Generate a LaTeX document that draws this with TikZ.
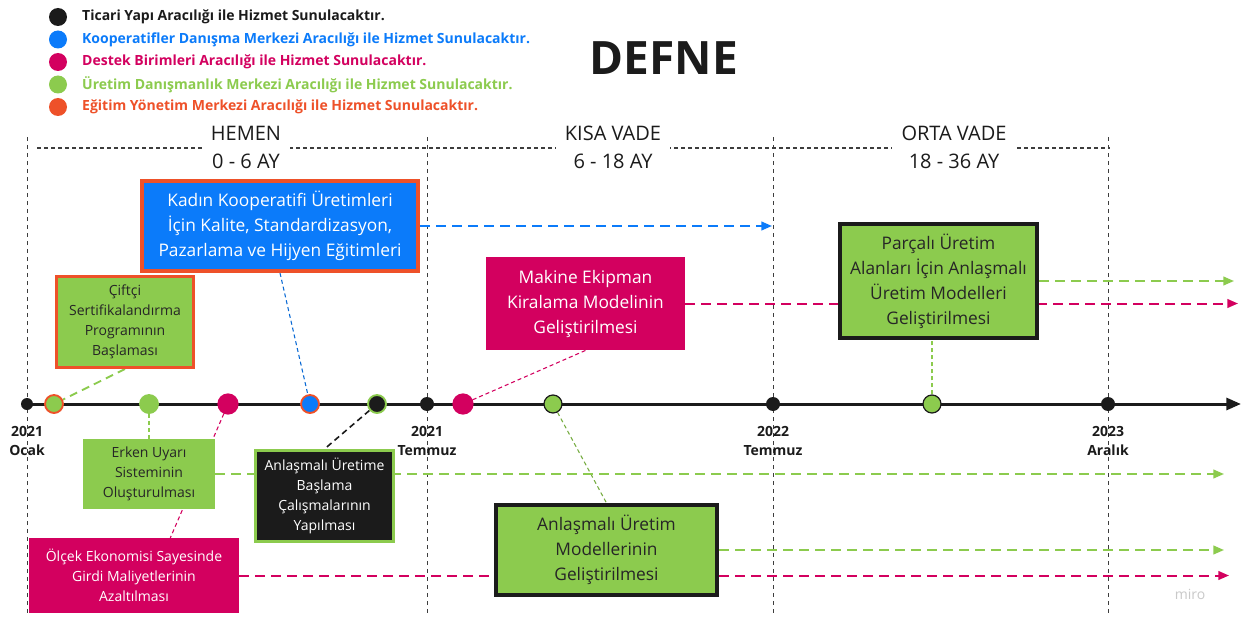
\documentclass[tikz,border=0pt]{standalone}
\usepackage{fontspec}
\setmainfont{Open Sans}
\usetikzlibrary{arrows.meta, positioning, backgrounds}

\definecolor{tblack}{HTML}{1B1B1B}
\definecolor{tdark}{HTML}{262626}
\definecolor{tblue}{HTML}{0B7BFA}
\definecolor{tmagenta}{HTML}{D3005F}
\definecolor{tgreen}{HTML}{8CCB4E}
\definecolor{torange}{HTML}{EE5129}
\definecolor{tgray}{HTML}{C9C9C9}

\begin{document}
\begin{tikzpicture}[
    x=0.75pt, y=-0.75pt,
    legenddot/.style={circle, inner sep=0pt, minimum size=13.5pt},
    legendtext/.style={inner sep=0pt, font=\bfseries\fontsize{10.5}{12}\selectfont},
    period/.style={fill=white, align=center, inner xsep=7pt, inner ysep=1pt, text=tblack, font=\fontsize{15}{21}\selectfont},
    yearlabel/.style={align=center, text=tblack, font=\bfseries\fontsize{10.5}{14.25}\selectfont},
    guide/.style={tblack!85, line width=0.7pt, dash pattern=on 3pt off 3pt},
    headline/.style={tblack!85, line width=0.8pt, dash pattern=on 3pt off 2.25pt},
    milestone/.style={circle, inner sep=0pt, minimum size=13.5pt, line width=1.4pt},
    yearmark/.style={circle, fill=tblack, inner sep=0pt, minimum size=10.5pt},
    taskbox/.style={rectangle, align=center, inner sep=2pt, font=\fontsize{10.5}{15}\selectfont},
    bigtask/.style={taskbox, font=\fontsize{13}{18.75}\selectfont},
    leader/.style={line width=0.8pt, dash pattern=on 3pt off 2.25pt},
    trackline/.style={line width=1.5pt, dash pattern=on 7.5pt off 4.5pt, -{Triangle[length=8pt,width=6.5pt]}}
]

% Canvas
\useasboundingbox (0,0) rectangle (1250,617);

% Legend
\foreach \col/\txt [count=\i] in {tblack/Ticari Yapı Aracılığı ile Hizmet Sunulacaktır.,
    tblue/Kooperatifler Danışma Merkezi Aracılığı ile Hizmet Sunulacaktır.,
    tmagenta/Destek Birimleri Aracılığı ile Hizmet Sunulacaktır.,
    tgreen/Üretim Danışmanlık Merkezi Aracılığı ile Hizmet Sunulacaktır.,
    torange/Eğitim Yönetim Merkezi Aracılığı ile Hizmet Sunulacaktır.} {
  \node[legenddot, fill=\col] (leg\i) at (58, 22.5*\i-5.5) {};
  \node[legendtext, text=\col, right=11pt of leg\i] (legtext\i) {\txt};
}

% Title
\node[text=tblack, font=\bfseries\fontsize{34.5}{40}\selectfont] (title) at (664,58) {DEFNE};

% Periods
\node[period] (hemen) at (246,147) {HEMEN\\0 - 6 AY};
\node[period] (kisa) at (613,147) {KISA VADE\\6 - 18 AY};
\node[period] (orta) at (954,147) {ORTA VADE\\18 - 36 AY};

% Timeline
\coordinate (axisstart) at (27,404);
\coordinate (axisend) at (1241,404);
\draw[tblack, line width=2.25pt, -{Triangle[length=11pt,width=9pt]}] (axisstart) -- (axisend);

\node[yearmark, minimum size=9pt] (d1) at (27,404) {};
\node[milestone, fill=tgreen, draw=torange] (d2) at (54,404) {};
\node[milestone, fill=tgreen, draw=tgreen] (d3) at (149,404) {};
\node[milestone, fill=tmagenta, draw=tmagenta, minimum size=14.5pt] (d4) at (228,404) {};
\node[milestone, fill=tblue, draw=torange] (d5) at (310,404) {};
\node[milestone, fill=tblack, draw=tgreen] (d6) at (377,404) {};
\node[yearmark] (d7) at (427,404) {};
\node[milestone, fill=tmagenta, draw=tmagenta, minimum size=14.5pt] (d8) at (463,404) {};
\node[milestone, fill=tgreen, draw=tblack, line width=0.9pt] (d9) at (553,404) {};
\node[yearmark] (d10) at (773,404) {};
\node[milestone, fill=tgreen, draw=tblack, line width=0.9pt] (d11) at (932,404) {};
\node[yearmark] (d12) at (1108,404) {};

\node[yearlabel] (y1) at (27,441) {2021\\Ocak};
\node[yearlabel] (y2) at (427,441) {2021\\Temmuz};
\node[yearlabel] (y3) at (773,441) {2022\\Temmuz};
\node[yearlabel] (y4) at (1108,441) {2023\\Aralık};

% Tasks
\node[bigtask, fill=tblue, draw=torange, line width=3pt, text=white, minimum width=207pt, minimum height=67.5pt] (kadin) at (280,226) {Kadın Kooperatifi Üretimleri\\İçin Kalite, Standardizasyon,\\Pazarlama ve Hijyen Eğitimleri};
\node[taskbox, fill=tgreen, draw=torange, line width=2.25pt, text=tdark, minimum width=102.75pt, minimum height=68.25pt] (ciftci) at (125,322) {Çiftçi\\Sertifikalandırma\\Programının\\Başlaması};
\node[bigtask, fill=tmagenta, text=white, minimum width=149pt, minimum height=70pt] (makine) at (585.5,303.5) {Makine Ekipman\\Kiralama Modelinin\\Geliştirilmesi};
\node[bigtask, fill=tgreen, draw=tblack, line width=3pt, text=tdark, minimum width=148pt, minimum height=85.5pt] (parcali) at (938.5,281) {Parçalı Üretim\\Alanları İçin Anlaşmalı\\Üretim Modelleri\\Geliştirilmesi};
\node[taskbox, fill=tgreen, text=tdark, minimum width=99pt, minimum height=52.5pt] (erken) at (149,474) {Erken Uyarı\\Sisteminin\\Oluşturulması};
\node[taskbox, fill=tblack, draw=tgreen, line width=2.25pt, text=white, minimum width=103.5pt, minimum height=68.25pt] (baslama) at (324.5,496) {Anlaşmalı Üretime\\Başlama\\Çalışmalarının\\Yapılması};
\node[taskbox, fill=tmagenta, text=white, minimum width=157.5pt, minimum height=56pt] (olcek) at (134,575.5) {Ölçek Ekonomisi Sayesinde\\Girdi Maliyetlerinin\\Azaltılması};
\node[bigtask, fill=tgreen, draw=tblack, line width=3pt, text=tdark, minimum width=166pt, minimum height=67.5pt] (modeller) at (606.5,550) {Anlaşmalı Üretim\\Modellerinin\\Geliştirilmesi};

\node[text=tgray, font=\fontsize{10.5}{12}\selectfont] (miro) at (1190,594) {miro};

% Arrow ends
\coordinate (blueend) at (772,226);
\coordinate (makineend) at (1238,303.5);
\coordinate (parcaliend) at (1234,281);
\coordinate (erkenend) at (1224,474);
\coordinate (modellerend) at (1224,550);
\coordinate (olcekend) at (1229,575.5);

\begin{scope}[on background layer]
  \fill[white] (0,0) rectangle (1250,617);
  % Grid
  \draw[headline] (37,148) -- (1110,148);
  \foreach \gx in {27,427,773,1108}
    \draw[guide] (\gx,137) -- (\gx,617);
  % Leaders
  \draw[leader, tgreen, line width=1.4pt, dash pattern=on 6pt off 4pt] (ciftci.south) -- (d2);
  \draw[leader, tblue!85!black] (kadin.south) -- (d5);
  \draw[leader, tgreen, line width=1.2pt] (d3) -- (erken.north);
  \draw[leader, tmagenta] (d4) -- (olcek.46);
  \draw[leader, tblack, line width=1.2pt, dash pattern=on 4.5pt off 3pt] (d6) -- (baslama.north);
  \draw[leader, tmagenta] (d8) -- (makine.south);
  \draw[leader, tgreen!85!black] (d9) -- (modeller.north);
  \draw[leader, tgreen] (d11) -- (d11 |- parcali.south);
  % Tracks
  \draw[trackline, tblue] (kadin.east) -- (blueend);
  \draw[trackline, tmagenta] (makine.east) -- (makineend);
  \draw[trackline, tgreen] (parcali.east) -- (parcaliend);
  \draw[trackline, tgreen] (erken.east) -- (erkenend);
  \draw[trackline, tgreen] (modeller.east) -- (modellerend);
  \draw[trackline, tmagenta] (olcek.east) -- (olcekend);
\end{scope}

\end{tikzpicture}
\end{document}
